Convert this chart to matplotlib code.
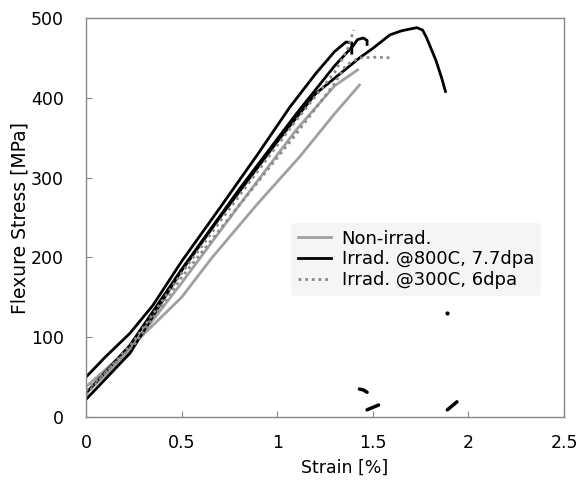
import matplotlib
matplotlib.use("Agg")
import matplotlib.pyplot as plt

# ---- data (strain [%], stress [MPa]) ----
# Non-irradiated specimens
g1_x = [0.0, 0.2, 0.5, 0.66, 0.9, 1.117, 1.3, 1.43]
g1_y = [38, 80, 150, 200, 268, 326, 380, 416]
g2_x = [0.0, 0.2, 0.5, 0.8, 1.1, 1.3, 1.42]
g2_y = [30, 75, 168, 265, 360, 415, 435]

# Irradiated @800C, 7.7dpa
b1_x = [0.0, 0.1, 0.23, 0.35, 0.5, 0.7, 0.9, 1.065, 1.2, 1.3, 1.36, 1.39, 1.39]
b1_y = [50, 75, 105, 140, 195, 262, 330, 388, 430, 458, 470, 469, 456]
b2_x = [0.0, 0.23, 0.5, 0.8, 1.1, 1.3, 1.40, 1.42, 1.45, 1.47, 1.47]
b2_y = [30, 90, 185, 285, 380, 440, 466, 473, 475, 472, 467]
b3_x = [0.0, 0.23, 0.49, 0.7, 1.0, 1.2, 1.43, 1.5, 1.59, 1.65, 1.73, 1.76, 1.78, 1.83, 1.86, 1.88]
b3_y = [22, 80, 180, 250, 345, 405, 450, 462, 479, 484, 488, 485, 476, 447, 425, 408]
# broken fragments after failure
f1_x = [1.43, 1.45, 1.47]
f1_y = [35, 34, 31]
f2_x = [1.47, 1.50, 1.53]
f2_y = [9, 12, 15]
f3_x = [1.89, 1.915, 1.94]
f3_y = [9, 14, 19]
p_x = [1.89]
p_y = [130]

# Irradiated @300C, 6dpa
d1_x = [0.0, 0.25, 0.5, 0.8, 1.1, 1.3, 1.37, 1.40]
d1_y = [28, 95, 180, 277, 372, 432, 462, 485]
d2_x = [0.0, 0.25, 0.5, 0.8, 1.1, 1.3, 1.36, 1.43, 1.52, 1.6]
d2_y = [33, 90, 175, 265, 355, 418, 441, 450, 451, 450]

x_ticks = [0, 0.5, 1, 1.5, 2, 2.5]
x_tick_labels = ["0", "0.5", "1", "1.5", "2", "2.5"]
y_ticks = [0, 100, 200, 300, 400, 500]

fig = plt.figure(figsize=(5.78, 4.88), dpi=100)
ax = fig.add_axes([0.1488, 0.1455, 0.8270, 0.8175])

gray = "#a0a0a0"
black = "#000000"
dot = "#8a8a8a"
lw = 2.0

ax.plot(g1_x, g1_y, color=gray, lw=lw, label="Non-irrad.")
ax.plot(g2_x, g2_y, color=gray, lw=lw)

ax.plot(b1_x, b1_y, color=black, lw=lw, label="Irrad. @800C, 7.7dpa")
ax.plot(b2_x, b2_y, color=black, lw=lw)
ax.plot(b3_x, b3_y, color=black, lw=lw)
for fx, fy in [(f1_x, f1_y), (f2_x, f2_y), (f3_x, f3_y)]:
    ax.plot(fx, fy, color=black, lw=2.5, solid_capstyle="round")
ax.plot(p_x, p_y, "o", color=black, ms=2)

ax.plot(d1_x, d1_y, color=dot, lw=lw, ls=(0, (1, 1.4)), label="Irrad. @300C, 6dpa")
ax.plot(d2_x, d2_y, color=dot, lw=lw, ls=(0, (1, 1.4)))

ax.set_xlim(0, 2.5)
ax.set_ylim(0, 500)
ax.set_xticks(x_ticks)
ax.set_xticklabels(x_tick_labels)
ax.set_yticks(y_ticks)

for s in ax.spines.values():
    s.set_color("#888888")
    s.set_linewidth(1.0)
ax.tick_params(direction="in", length=4, color="#888888", labelsize=12.5)
ax.tick_params(axis="y", pad=16)
ax.tick_params(axis="x", pad=12)

ax.set_xlabel("Strain [%]", fontsize=12.5)
ax.xaxis.set_label_coords(0.54, -0.105)
ax.set_ylabel("Flexure Stress [MPa]", fontsize=13.5, labelpad=1)

leg = ax.legend(loc="upper left", bbox_to_anchor=(0.41, 0.51), frameon=True,
                fontsize=13, handlelength=1.8, handletextpad=0.6,
                labelspacing=0.15, borderpad=0.4)
leg.get_frame().set_facecolor("#f5f5f5")
leg.get_frame().set_edgecolor("none")
leg.get_frame().set_alpha(1)

fig.savefig("out.png", dpi=100)
